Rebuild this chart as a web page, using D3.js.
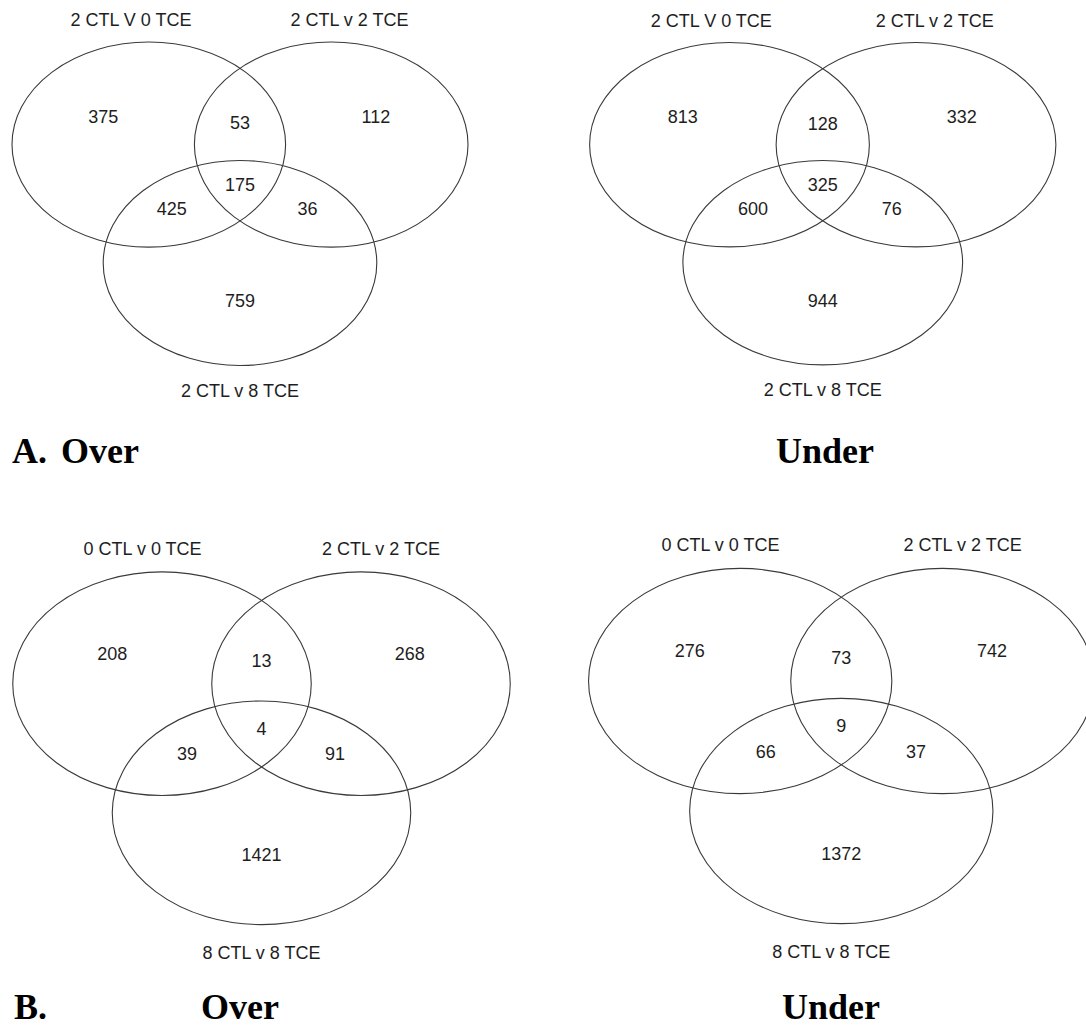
<!DOCTYPE html>
<html>
<head>
<meta charset="utf-8">
<script src="https://cdn.jsdelivr.net/npm/d3@7"></script>
<style>
  html, body { margin: 0; padding: 0; background: #fff; }
  svg { display: block; }
  .count, .setname { font-family: "Liberation Sans", Arial, sans-serif; font-size: 18px; fill: #1e1e1e; }
  .heading { font-family: "Liberation Serif", "Times New Roman", serif; font-weight: bold; font-size: 36px; fill: #000; }
</style>
</head>
<body>
<svg id="chart" width="1086" height="1030"></svg>
<script>
// Region order for every diagram:
// only left, left∩right, only right, all three, left∩bottom, right∩bottom, only bottom
const regionKeys = ["L", "LR", "R", "LRB", "LB", "RB", "B"];

// Comparison names (left, right, bottom)
const setNamesA = ["2 CTL V 0 TCE", "2 CTL v 2 TCE", "2 CTL v 8 TCE"];
const setNamesB = ["0 CTL v 0 TCE", "2 CTL v 2 TCE", "8 CTL v 8 TCE"];

// Gene counts per region
const countsAOver  = [375, 53, 112, 175, 425, 36, 759];
const countsAUnder = [813, 128, 332, 325, 600, 76, 944];
const countsBOver  = [208, 13, 268, 4, 39, 91, 1421];
const countsBUnder = [276, 73, 742, 9, 66, 37, 1372];

// Panel headings
const headingRowA = [{ text: "A.", x: 12 }, { text: "Over", x: 61 }, { text: "Under", x: 776 }];
const headingRowB = [{ text: "B.", x: 14 }, { text: "Over", x: 201 }, { text: "Under", x: 782 }];

// Venn template in unit space: left/right ellipse centres at x = -1 / +1, y = 0,
// bottom ellipse centre at (0, 1).
const ellipseUnits = [
  { cx: -1, cy: 0 },
  { cx: 1, cy: 0 },
  { cx: 0, cy: 1 }
];
const RX = 1.5, RY = 0.866;
const regionUnits = {
  L:   [-1.5, -0.185],
  LR:  [0, -0.128],
  R:   [1.49, -0.185],
  LRB: [0, 0.396],
  LB:  [-0.748, 0.593],
  RB:  [0.74, 0.593],
  B:   [0, 1.375]
};
const nameUnits = [[-1.195, -1.0], [1.2, -1.0], [0, 2.13]];

// Where each diagram sits on the page (pixel extents of the unit template)
const panels = [
  { names: setNamesA, counts: countsAOver,  xr: [148.8, 331.2], yr: [144.6, 263.0], bottomShift: 0 },
  { names: setNamesA, counts: countsAUnder, xr: [729.5, 916.0], yr: [144.7, 262.7], bottomShift: 0 },
  { names: setNamesB, counts: countsBOver,  xr: [162.0, 361.0], yr: [683.7, 812.8], bottomShift: 0 },
  { names: setNamesB, counts: countsBUnder, xr: [740.2, 942.4], yr: [681.0, 811.0], bottomShift: -0.1 }
];

const svg = d3.select("#chart");

panels.forEach(p => {
  const x = d3.scaleLinear().domain([-1, 1]).range(p.xr);
  const y = d3.scaleLinear().domain([0, 1]).range(p.yr);
  const g = svg.append("g");

  g.selectAll("ellipse")
    .data(ellipseUnits)
    .join("ellipse")
    .attr("cx", d => x(d.cx))
    .attr("cy", d => y(d.cy))
    .attr("rx", x(RX) - x(0))
    .attr("ry", y(RY) - y(0))
    .attr("fill", "none")
    .attr("stroke", "#3a3a3a")
    .attr("stroke-width", 1.1);

  g.selectAll("text.count")
    .data(p.counts.map((v, i) => ({ v, key: regionKeys[i] })))
    .join("text")
    .attr("class", "count")
    .attr("text-anchor", "middle")
    .attr("x", d => x(regionUnits[d.key][0]))
    .attr("y", d => y(regionUnits[d.key][1]))
    .text(d => d.v);

  g.selectAll("text.setname")
    .data(p.names.map((n, i) => ({ n, pos: nameUnits[i], i })))
    .join("text")
    .attr("class", "setname")
    .attr("text-anchor", "middle")
    .attr("x", d => x(d.pos[0] + (d.i === 2 ? p.bottomShift : 0)))
    .attr("y", d => y(d.pos[1]))
    .text(d => d.n);
});

[[headingRowA, 463], [headingRowB, 1019]].forEach(([row, baseline]) => {
  svg.append("g").selectAll("text")
    .data(row)
    .join("text")
    .attr("class", "heading")
    .attr("x", d => d.x)
    .attr("y", baseline)
    .text(d => d.text);
});
</script>
</body>
</html>
